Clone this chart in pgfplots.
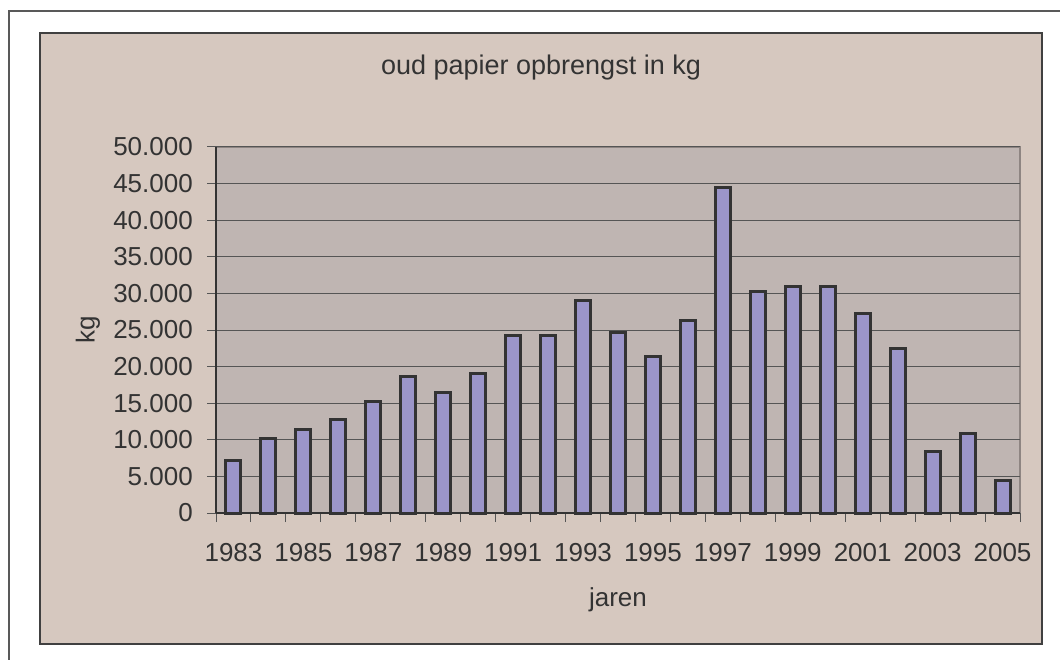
\documentclass[border=0pt]{standalone}
\usepackage{pgfplots}
\pgfplotsset{compat=1.18}
\usepackage{fontspec}
\setmainfont{Liberation Sans}
\definecolor{tanbg}{HTML}{D6C8BF}
\definecolor{plotbg}{HTML}{BFB5B2}
\definecolor{barfill}{HTML}{9B95C9}
\definecolor{txt}{HTML}{333333}
\definecolor{gridc}{HTML}{555555}
\definecolor{plotborder}{HTML}{8E8582}
\begin{document}
\begin{tikzpicture}[x=1pt,y=1pt]
\useasboundingbox (0,0) rectangle (1060,659);
\fill[white] (0,0) rectangle (1060,659);
\draw[line width=1.5pt, color=black!65] (9,-5) -- (9,648) -- (1070,648);
\draw[line width=1.5pt, color=black!75, fill=tanbg] (40,15) rectangle (1042,626);
\node[text=txt, font=\fontsize{27}{31}\selectfont] at (541,591) {oud papier opbrengst in kg};
\begin{axis}[
  at={(216pt,146pt)}, anchor=south west,
  width=804pt, height=366pt, scale only axis,
  ybar, bar width=15pt,
  xmin=-0.5, xmax=22.5,
  ymin=0, ymax=50000,
  ytick={0,5000,...,50000},
  scaled y ticks=false,
  /pgf/number format/assume math mode=true,
  xtick={0,2,...,22},
  xticklabels={1983,1985,1987,1989,1991,1993,1995,1997,1999,2001,2003,2005},
  minor xtick={-0.5,0.5,...,22.5},
  major x tick style={draw=none},
  minor x tick style={draw=gridc, line width=1pt},
  minor tick length=9pt,
  major tick length=9pt,
  tick align=outside,
  tick pos=left,
  y tick style={draw=gridc, line width=1pt},
  ymajorgrids,
  grid style={draw=gridc, line width=1pt},
  axis x line*=bottom, axis y line*=left,
  axis line style={draw=txt, line width=1.5pt, -},
  axis background/.style={fill=plotbg, draw=plotborder, line width=2pt},
  tick label style={text=txt, font=\fontsize{26}{30}\selectfont},
  label style={text=txt, font=\fontsize{26}{30}\selectfont},
  xlabel={jaren}, ylabel={kg},
  xlabel style={at={(axis description cs:0.5,0)}, anchor=center, yshift=-87pt},
  ylabel style={at={(axis description cs:-0.1592,0.5)}, anchor=center},
  yticklabel style={anchor=east, inner sep=0pt, xshift=-14pt,
    /pgf/number format/fixed, /pgf/number format/precision=0, /pgf/number format/1000 sep={.}},
  xticklabel style={anchor=north, inner sep=0pt, yshift=-21pt},
  clip=false,
]
\addplot[fill=barfill, draw=txt, line width=3pt, bar shift=0pt] coordinates {
(0,7200) (1,10200) (2,11450) (3,12800) (4,15200) (5,18600) (6,16500) (7,19100)
(8,24200) (9,24300) (10,29000) (11,24600) (12,21400) (13,26300) (14,44450)
(15,30250) (16,31000) (17,30900) (18,27200) (19,22500) (20,8400) (21,10850) (22,4500)};
\end{axis}
\end{tikzpicture}
\end{document}
